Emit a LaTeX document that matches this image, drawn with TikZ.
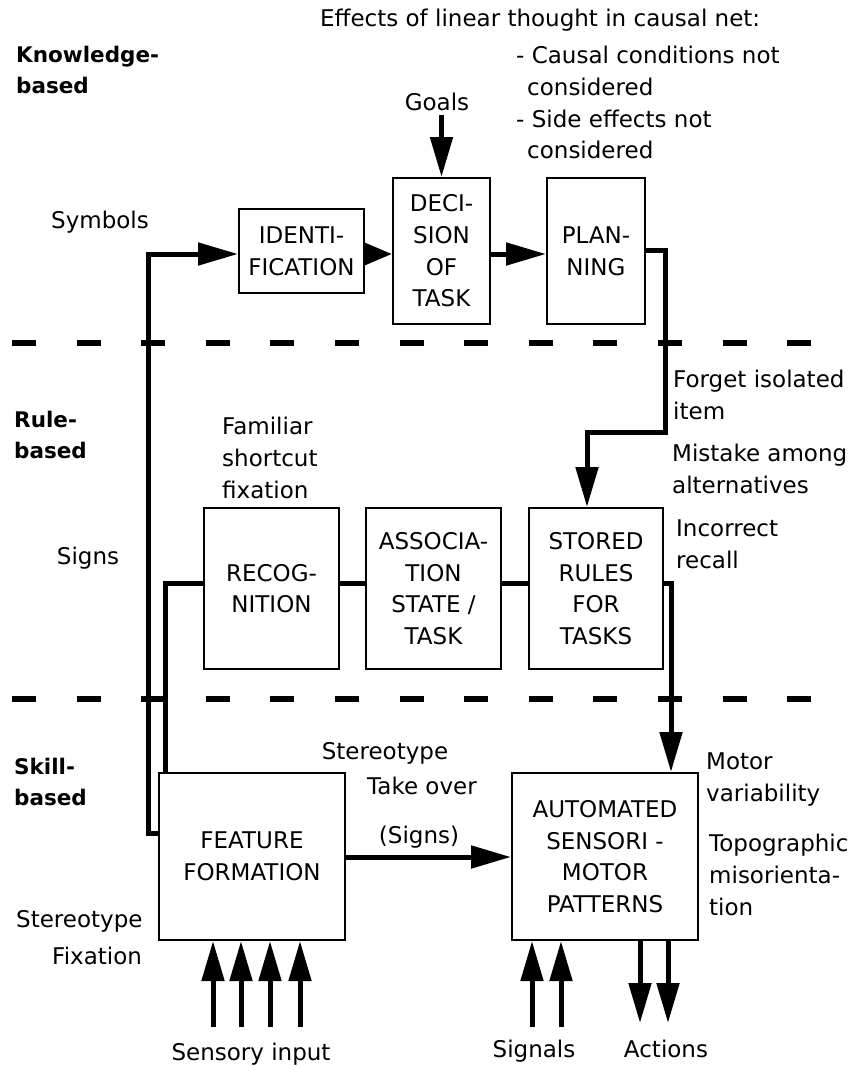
\documentclass[tikz,border=0pt]{standalone}
\usepackage{fontspec}
\setmainfont{DejaVu Sans}
\usetikzlibrary{arrows.meta}
\begin{document}
\begin{tikzpicture}[x=1pt,y=-1pt,
  every node/.style={inner sep=0pt, font=\fontsize{23}{31.7}\selectfont},
  box/.style={draw, line width=2pt, align=center},
  conn/.style={line width=5pt},
  arr/.style={-{Triangle[length=40pt,width=22pt]}},
  sarr/.style={-{Triangle[length=28pt,width=22pt]}},
  dline/.style={line width=6pt, dash pattern=on 24pt off 40.6pt},
  lbl/.style={font=\fontsize{21.5}{31}\selectfont\bfseries, align=left, anchor=north west},
  txt/.style={align=left, anchor=north west},
  one/.style={anchor=base},
]
\useasboundingbox (0,0) rectangle (851,1066);

% separators
\coordinate (d1a) at (12,343);  \coordinate (d1b) at (812,343);
\coordinate (d2a) at (12,699);  \coordinate (d2b) at (812,699);
\draw[dline] (d1a) -- (d1b);
\draw[dline] (d2a) -- (d2b);

% boxes
\node[box, minimum width=125pt, minimum height=84pt] (ident) at (301.5,251) {IDENTI-\\FICATION};
\node[box, minimum width=97pt, minimum height=146pt] (dec) at (441.5,251) {DECI-\\SION\\OF\\TASK};
\node[box, minimum width=98pt, minimum height=146pt] (plan) at (596,251) {PLAN-\\NING};
\node[box, minimum width=135pt, minimum height=161pt] (recog) at (271.5,588.5) {RECOG-\\NITION};
\node[box, minimum width=135pt, minimum height=161pt] (assoc) at (433.5,588.5) {ASSOCIA-\\TION\\STATE /\\TASK};
\node[box, minimum width=134pt, minimum height=161pt] (stored) at (596,588.5) {STORED\\RULES\\FOR\\TASKS};
\node[box, minimum width=186pt, minimum height=167pt] (feat) at (252,856.5) {FEATURE\\FORMATION};
\node[box, minimum width=186pt, minimum height=167pt] (auto) at (605,856.5) {AUTOMATED\\SENSORI -\\MOTOR\\PATTERNS};

% texts
\node[txt] (effects) at (320,9) {Effects of linear thought in causal net:};
\node[lbl] (know) at (16,46) {Knowledge-\\based};
\node[txt] (conds) at (516,46) {- Causal conditions not\\\hspace*{11pt}considered\\- Side effects not\\\hspace*{11pt}considered};
\node (goals) at (437,102) {Goals};
\node[one] (symbols) at (100,228) {Symbols};
\node[lbl] (rule) at (14,411) {Rule-\\based};
\node[txt] (familiar) at (222,417) {Familiar\\shortcut\\fixation};
\node[txt] (forget) at (673,370) {Forget isolated\\item};
\node[txt] (mistake) at (672,444) {Mistake among\\alternatives};
\node[txt] (incorrect) at (676,520) {Incorrect\\recall};
\node[one] (signs) at (88,564) {Signs};
\node[lbl] (skill) at (14,758) {Skill-\\based};
\node[one] (stereo1) at (385,759) {Stereotype};
\node[one] (takeover) at (422,794) {Take over};
\node[one] (signs2) at (419,843) {(Signs)};
\node[txt] (motor) at (706,753) {Motor\\variability};
\node[txt] (topo) at (709,834) {Topographic\\misorienta-\\tion};
\node[anchor=base west] (stereo2) at (16,927) {Stereotype};
\node[anchor=base west] (fixation) at (52,964) {Fixation};
\node[one] (sensory) at (251,1060) {Sensory input};
\node[one] (signals) at (534,1057) {Signals};
\node[one] (actions) at (666,1057) {Actions};

% connectors
\draw[conn, arr] (feat.west |- 0,833) -- (148,833) -- (148,254) -- (ident.west |- 0,254);
\draw[conn, sarr] (ident.east |- 0,254) -- (dec.west |- 0,254);
\draw[conn, arr] (dec.east |- 0,254) -- (plan.west |- 0,254);
\draw[conn, arr] (plan.east |- 0,250) -- (665,250) -- (665,432) -- (587,432) -- (stored.north -| 587,0);
\draw[conn] (feat.north -| 165,0) -- (165,583) -- (recog.west |- 0,583);
\draw[conn] (recog.east |- 0,583) -- (assoc.west |- 0,583);
\draw[conn] (assoc.east |- 0,583) -- (stored.west |- 0,583);
\draw[conn, arr] (stored.east |- 0,583) -- (671,583) -- (auto.north -| 671,0);
\draw[conn, arr] (feat.east |- 0,857) -- (auto.west |- 0,857);
\draw[conn, arr] (dec.north |- 0,115) -- (dec.north);

\foreach \x [count=\i] in {213,241,270,300} {
  \coordinate (si\i) at (\x,1027);
  \draw[conn, arr] (si\i) -- (feat.south -| si\i);
}
\foreach \x [count=\i] in {532,561} {
  \coordinate (sg\i) at (\x,1027);
  \draw[conn, arr] (sg\i) -- (auto.south -| sg\i);
}
\foreach \x [count=\i] in {640,668} {
  \coordinate (ac\i) at (\x,1023);
  \draw[conn, arr] (auto.south -| ac\i) -- (ac\i);
}
\end{tikzpicture}
\end{document}
